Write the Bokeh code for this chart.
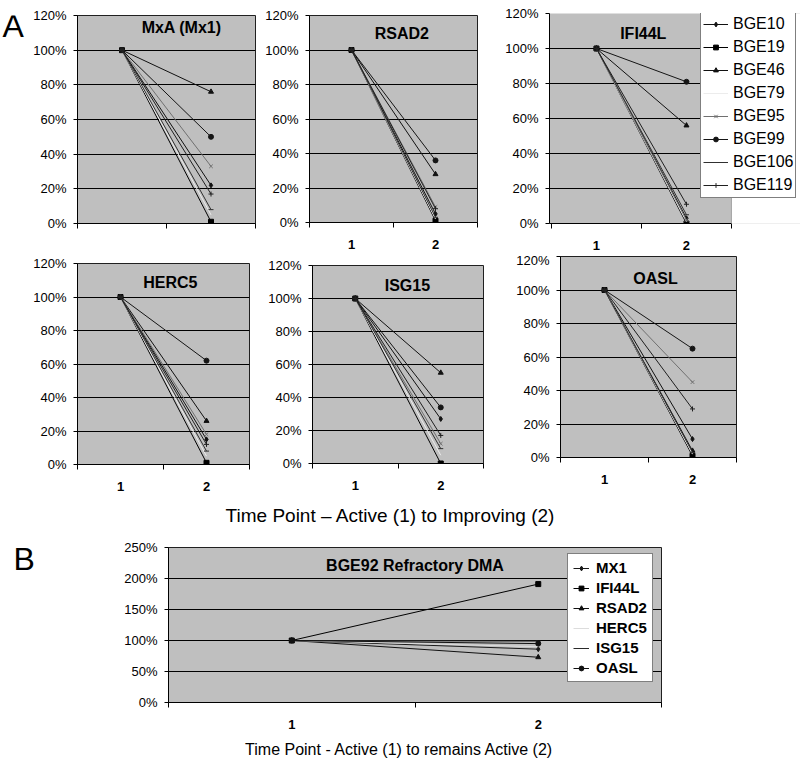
from bokeh.plotting import figure
from bokeh.layouts import row, column
from bokeh.models import (Range1d, FixedTicker, PrintfTickFormatter, Legend, LegendItem, Label,
                          BoxAnnotation)
from bokeh.embed import file_html
from bokeh.resources import INLINE

FONT = "Liberation Sans"

# ---------------- data ----------------
time_points = [1, 2]
start_pct = 100
samples = ["BGE10", "BGE19", "BGE46", "BGE79", "BGE95", "BGE99", "BGE106", "BGE119"]
mxa_end = [22, 1, 76, 5, 33, 50, 8, 17]
rsad2_end = [5, 1, 28, 2, 9, 36, 3, 8]
ifi44l_end = [3, 0, 56, 1, 2, 81, 5, 11]
herc5_end = [15, 1, 26, 5, 18, 62, 8, 12]
isg15_end = [27, 0, 55, 5, 12, 34, 9, 17]
oasl_end = [11, 1, 4, 2, 45, 65, 3, 29]
pct_ticks_a = [0, 20, 40, 60, 80, 100, 120]

genes_b = ["MX1", "IFI44L", "RSAD2", "HERC5", "ISG15", "OASL"]
refractory_end = [86, 191, 73, 90, 99, 95]
pct_ticks_b = [0, 50, 100, 150, 200, 250]

# ---------------- styles ----------------
sample_markers = ["diamond", "square", "triangle", None, "x", "circle", "dash", "cross"]
sample_colors = ["#111111", "#000000", "#111111", "#ececec", "#707070", "#151515", "#303030", "#202020"]
gene_markers = ["diamond", "square", "triangle", None, "dash", "circle"]
gene_colors = ["#1a1a1a", "#000000", "#111111", "#dcdcdc", "#2a2a2a", "#111111"]
BG = "#bfbfbf"


def base_fig(width, height, left, right, top, bottom, ymax, yticks, show_xlabels=True, xr=(0.5, 2.5)):
    p = figure(width=width, height=height, x_range=Range1d(*xr), y_range=Range1d(0, ymax),
               toolbar_location=None, output_backend="svg",
               min_border_left=left, min_border_right=right, min_border_top=top, min_border_bottom=bottom)
    p.background_fill_color = BG
    p.border_fill_color = "white"
    p.outline_line_color = "#202020"
    p.outline_line_width = 1
    p.xgrid.visible = False
    p.ygrid.ticker = FixedTicker(ticks=yticks)
    p.ygrid.grid_line_color = "black"
    p.ygrid.grid_line_width = 1
    p.yaxis.ticker = FixedTicker(ticks=yticks)
    p.yaxis.formatter = PrintfTickFormatter(format="%d%%")
    if show_xlabels:
        p.xaxis.ticker = FixedTicker(ticks=time_points, minor_ticks=[0.5, 1.5, 2.5])
    else:
        p.xaxis.ticker = FixedTicker(ticks=[], minor_ticks=[0.5, 1.5, 2.5])
    for ax in (p.xaxis[0], p.yaxis[0]):
        ax.axis_line_color = "black"
        ax.major_tick_line_color = "black"
        ax.minor_tick_line_color = "black"
        ax.major_label_text_font = FONT
        ax.major_label_text_font_size = "13px"
        ax.major_label_text_color = "black"
    p.yaxis.major_tick_out = 4
    p.yaxis.major_tick_in = 0
    p.yaxis.minor_tick_line_color = None
    p.yaxis.major_label_standoff = 7
    p.xaxis.major_tick_out = 0
    p.xaxis.major_tick_in = 0
    p.xaxis.minor_tick_out = 5
    p.xaxis.minor_tick_in = 0
    p.xaxis.major_label_standoff = 12
    p.xaxis.major_label_text_font_style = "bold"
    return p


def draw_series(p, names, ends, markers, colors, msize=5):
    items = []
    for name, end, m, c in zip(names, ends, markers, colors):
        rs = [p.line(time_points, [start_pct, end], line_color=c, line_width=1)]
        if m is not None:
            rs.append(p.scatter(time_points, [start_pct, end], marker=m, size=msize,
                                line_color=c, fill_color=c, line_width=1))
        items.append(LegendItem(label=name, renderers=rs))
    return items


def panel_title(p, text, x, y):
    p.add_layout(Label(x=x, y=y, text=text, text_font=FONT, text_font_size="16px",
                       text_font_style="bold", text_align="center", text_baseline="middle",
                       text_color="black"))


def letter_fig(width, height, letter, x, y):
    f = figure(width=width, height=height, x_range=Range1d(0, width), y_range=Range1d(0, height),
               toolbar_location=None, output_backend="svg", x_axis_type=None, y_axis_type=None,
               min_border=0, outline_line_color=None)
    f.grid.visible = False
    f.add_layout(Label(x=x, y=y, text=letter, text_font=FONT, text_font_size="32px", text_color="black"))
    return f


def text_strip(width, height, text, x, y, size):
    f = figure(width=width, height=height, x_range=Range1d(0, width), y_range=Range1d(0, height),
               toolbar_location=None, output_backend="svg", x_axis_type=None, y_axis_type=None,
               min_border=0, outline_line_color=None)
    f.grid.visible = False
    f.add_layout(Label(x=x, y=y, text=text, text_font=FONT, text_font_size=size, text_align="center",
                       text_baseline="middle", text_color="black"))
    return f


# ---------------- panel A ----------------
letter_a = letter_fig(27, 252, "A", 2, 218)
mxa = base_fig(231, 252, 50, 3, 15, 29, 120, pct_ticks_a, show_xlabels=False)
draw_series(mxa, samples, mxa_end, sample_markers, sample_colors)
panel_title(mxa, "MxA (Mx1)", 1.67, 113)

rsad2 = base_fig(240, 252, 51, 21, 15, 30, 120, pct_ticks_a)
draw_series(rsad2, samples, rsad2_end, sample_markers, sample_colors)
panel_title(rsad2, "RSAD2", 1.6, 109.5)

# IFI44L: frame runs to the page edge, area right of the plot is blanked, legend sits over it
ifi = base_fig(302, 252, 51, 0, 13, 29, 120, pct_ticks_a, xr=(0.478, 3.267))
ifi.outline_line_color = None
ifi.xaxis.bounds = (0.478, 2.5)
items_a = draw_series(ifi, samples, ifi44l_end, sample_markers, sample_colors)
panel_title(ifi, "IFI44L", 1.52, 108.5)
ifi.add_layout(BoxAnnotation(left=2.5, bottom=-10, top=130, fill_color="white", fill_alpha=1,
                             line_color="#202020", line_width=1))
leg_a = Legend(items=items_a, location=(151, 25), background_fill_color="white", background_fill_alpha=1,
               border_line_color="black", border_line_width=1,
               label_text_font=FONT, label_text_font_size="16px", label_text_color="black",
               glyph_width=25, glyph_height=12, label_height=20, label_standoff=5,
               padding=2, spacing=3, margin=0)
ifi.add_layout(leg_a)

herc5 = base_fig(258, 251, 77, 9, 11, 39, 120, pct_ticks_a)
draw_series(herc5, samples, herc5_end, sample_markers, sample_colors)
panel_title(herc5, "HERC5", 1.58, 108.7)

isg15 = base_fig(240, 251, 54, 15, 13, 40, 120, pct_ticks_a)
draw_series(isg15, samples, isg15_end, sample_markers, sample_colors)
panel_title(isg15, "ISG15", 1.61, 108)

oasl = base_fig(302, 251, 62, 64, 4, 46, 120, pct_ticks_a)
draw_series(oasl, samples, oasl_end, sample_markers, sample_colors)
panel_title(oasl, "OASL", 1.58, 107)

title_a = text_strip(800, 25, "Time Point \u2013 Active (1) to Improving (2)", 390, 13, "19px")

# ---------------- panel B ----------------
letter_b = letter_fig(40, 213, "B", 13, 173)
pb = base_fig(760, 213, 128, 139, 19, 39, 250, pct_ticks_b)
items_b = draw_series(pb, genes_b, refractory_end, gene_markers, gene_colors)
panel_title(pb, "BGE92 Refractory DMA", 1.5, 221)
leg_b = Legend(items=items_b, location=(399, 20), background_fill_color="white", background_fill_alpha=1,
               border_line_color="black", border_line_width=1,
               label_text_font=FONT, label_text_font_size="15px", label_text_font_style="bold",
               label_text_color="black",
               glyph_width=16, glyph_height=12, label_height=17, label_standoff=7,
               padding=5, spacing=3, margin=0)
pb.add_layout(leg_b)

title_b = text_strip(800, 25, "Time Point - Active (1) to remains Active (2)", 399, 17, "16px")

layout = column(
    row(
        column(row(letter_a, mxa), row(herc5)),
        column(row(rsad2), row(isg15)),
        column(row(ifi), row(oasl)),
    ),
    title_a,
    row(letter_b, pb),
    title_b,
)

with open("out.html", "w") as f:
    f.write(file_html(layout, INLINE))
